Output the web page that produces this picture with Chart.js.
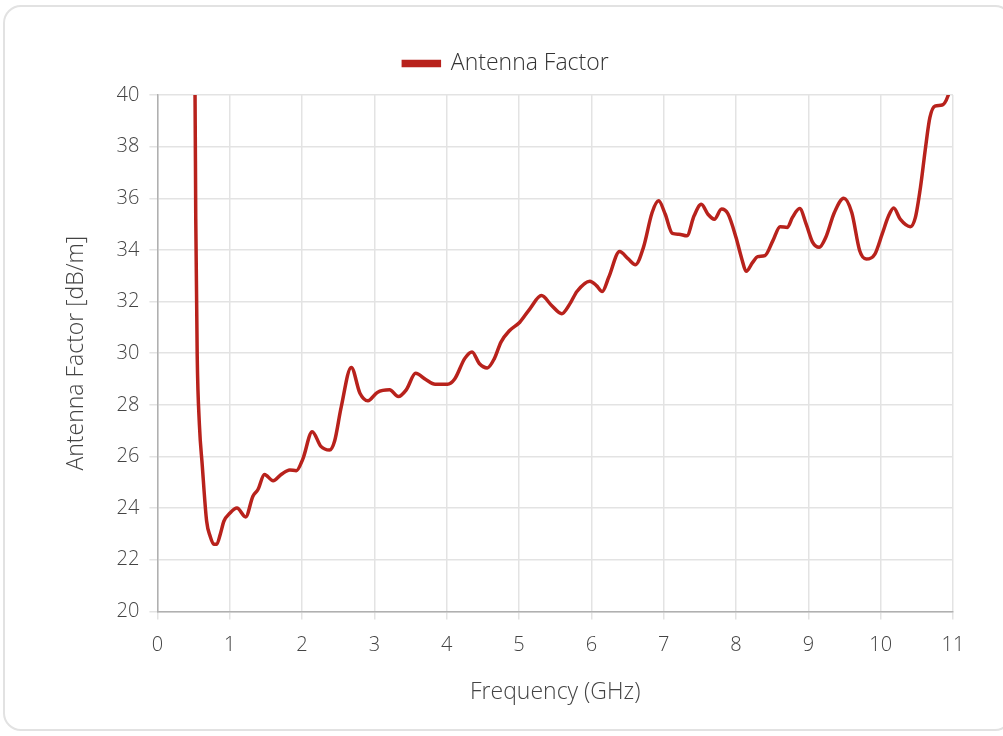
<!DOCTYPE html>
<html>
<head>
<meta charset="utf-8">
<script src="https://cdn.jsdelivr.net/npm/chart.js@4"></script>
<style>
  html, body { margin: 0; padding: 0; background: #fff; }
  .card {
    position: absolute; left: 3px; top: 5px; width: 1010px; height: 726px;
    border: 2px solid #e2e2e2; border-radius: 18px; box-sizing: border-box;
  }
  .wrap { position: absolute; left: 0; top: 0; width: 1003px; height: 736px; }
</style>
</head>
<body>
<div class="card"></div>
<div class="wrap"><canvas id="chart"></canvas></div>
<script>
// ── Data ──────────────────────────────────────────────────
const freqGHz = [
  0.50, 0.52, 0.53, 0.55, 0.58, 0.62, 0.68, 0.73, 0.78, 0.82, 0.87, 0.92, 1.00,
  1.10, 1.22, 1.32, 1.39, 1.48, 1.60, 1.71, 1.83, 1.92, 2.01, 2.14, 2.26, 2.38,
  2.45, 2.54, 2.68, 2.80, 2.91, 3.04, 3.21, 3.33, 3.44, 3.57, 3.71, 3.84, 4.01,
  4.11, 4.25, 4.35, 4.45, 4.56, 4.66, 4.75, 4.87, 5.01, 5.15, 5.31, 5.45, 5.59,
  5.70, 5.80, 5.98, 6.07, 6.15, 6.24, 6.39, 6.51, 6.61, 6.72, 6.84, 6.93, 7.02,
  7.12, 7.21, 7.32, 7.42, 7.52, 7.61, 7.70, 7.80, 7.89, 8.00, 8.08, 8.14, 8.23,
  8.30, 8.40, 8.51, 8.61, 8.71, 8.78, 8.88, 8.97, 9.06, 9.15, 9.24, 9.36, 9.49,
  9.60, 9.71, 9.80, 9.92, 10.02, 10.11, 10.18, 10.27, 10.41, 10.48, 10.55, 10.62,
  10.68, 10.75, 10.85, 10.93, 10.96
];
const antennaFactor = [
  42.0, 40.0, 35.2, 29.9, 27.25, 25.65, 23.5, 22.9, 22.6, 22.6, 23.0, 23.5, 23.8,
  24.0, 23.66, 24.46, 24.72, 25.3, 25.06, 25.3, 25.48, 25.45, 25.9, 26.96, 26.39, 26.25,
  26.6, 27.9, 29.45, 28.45, 28.16, 28.48, 28.58, 28.32, 28.58, 29.22, 28.98, 28.8, 28.8,
  29.0, 29.8, 30.05, 29.6, 29.43, 29.8, 30.43, 30.88, 31.2, 31.72, 32.23, 31.85, 31.53,
  31.9, 32.39, 32.79, 32.62, 32.39, 32.94, 33.94, 33.65, 33.43, 34.1, 35.45, 35.9, 35.39,
  34.64, 34.61, 34.55, 35.32, 35.77, 35.39, 35.19, 35.58, 35.39, 34.48, 33.65, 33.17, 33.52,
  33.74, 33.78, 34.36, 34.9, 34.87, 35.26, 35.6, 35.0, 34.29, 34.1, 34.48, 35.45, 36.0,
  35.45, 33.97, 33.65, 33.84, 34.61, 35.32, 35.62, 35.19, 34.9, 35.26, 36.42, 37.96,
  39.12, 39.57, 39.61, 39.96, 40.3
];
const xTicks = [0, 1, 2, 3, 4, 5, 6, 7, 8, 9, 10, 11];
const yTicks = [20, 22, 24, 26, 28, 30, 32, 34, 36, 38, 40];

const RED = "#b8221c";
const FONT = "'Open Sans', Lato, sans-serif";

Chart.defaults.font.family = FONT;
Chart.defaults.color = "#444";

// extra gap between legend and plot
const legendGap = {
  id: "legendGap",
  beforeInit(chart) {
    const fit = chart.legend.fit;
    chart.legend.fit = function () {
      fit.bind(chart.legend)();
      this.height += 10;
    };
  },
};

new Chart(document.getElementById("chart"), {
  type: "line",
  data: {
    datasets: [{
      label: "Antenna Factor",
      data: freqGHz.map((f, i) => ({ x: f, y: antennaFactor[i] })),
      borderColor: RED,
      backgroundColor: RED,
      borderWidth: 3.5,
      pointRadius: 0,
      tension: 0.4,
      cubicInterpolationMode: "monotone",
    }],
  },
  options: {
    responsive: true,
    maintainAspectRatio: false,
    animation: false,
    layout: { padding: { top: 30, left: 59, right: 50, bottom: 26 } },
    plugins: {
      legend: {
        display: true,
        position: "top",
        labels: { boxWidth: 36, boxHeight: 4, font: { size: 23, weight: "300" }, color: "#333", padding: 22 },
      },
      tooltip: { enabled: false },
    },
    scales: {
      x: {
        type: "linear",
        min: 0, max: 11,
        afterBuildTicks: (axis) => { axis.ticks = xTicks.map((v) => ({ value: v })); },
        grid: { color: "#e3e3e3", lineWidth: 1.5, tickLength: 8 },
        border: { color: "#b0b0b0", width: 1.5 },
        ticks: { font: { size: 20, weight: "300" }, color: "#444", padding: 14 },
        title: { display: true, text: "Frequency (GHz)", font: { size: 23, weight: "300" }, color: "#444", padding: { top: 7 } },
      },
      y: {
        min: 20, max: 40,
        afterBuildTicks: (axis) => { axis.ticks = yTicks.map((v) => ({ value: v })); },
        grid: { color: "#e3e3e3", lineWidth: 1.5, tickLength: 8 },
        border: { color: "#b0b0b0", width: 1.5 },
        ticks: { font: { size: 20, weight: "300" }, color: "#444", padding: 10 },
        title: { display: true, text: "Antenna Factor [dB/m]", font: { size: 23, weight: "300" }, color: "#444", padding: { bottom: 16 } },
      },
    },
  },
  plugins: [legendGap],
});
</script>
</body>
</html>
